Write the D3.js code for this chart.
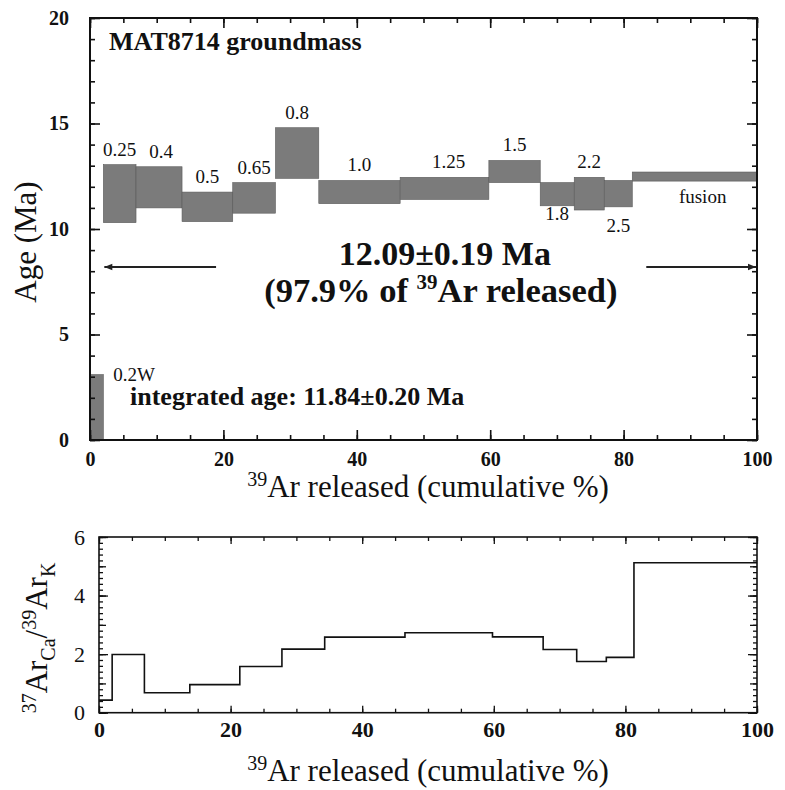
<!DOCTYPE html>
<html>
<head>
<meta charset="utf-8">
<script src="https://cdn.jsdelivr.net/npm/d3@7/dist/d3.min.js"></script>
<style>
body { margin: 0; background: #fff; }
</style>
</head>
<body>
<div id="svgDiv"></div>
<script>
// step edges, cumulative % of 39Ar released
var cumEdges = [0, 2.0, 6.9, 13.8, 21.4, 27.8, 34.3, 46.5, 59.8, 67.5, 72.6, 77.1, 81.3, 100];
// heating step labels (W)
var stepLabels = ["0.2W", "0.25", "0.4", "0.5", "0.65", "0.8", "1.0", "1.25", "1.5", "1.8", "2.2", "2.5", "fusion"];
// age box bottom / top (Ma)
var ageLow  = [0, 10.3, 11.0, 10.35, 10.75, 12.4, 11.2, 11.4, 12.2, 11.1, 10.9, 11.05, 12.27];
var ageHigh = [3.1, 13.05, 12.95, 11.75, 12.2, 14.8, 12.3, 12.45, 13.25, 12.2, 12.45, 12.3, 12.7];
// 37ArCa/39ArK per step
var caK = [0.43, 1.99, 0.68, 0.96, 1.58, 2.17, 2.58, 2.73, 2.59, 2.16, 1.75, 1.89, 5.12];

var xTicks = [0, 20, 40, 60, 80, 100];
var ageTicks = [0, 5, 10, 15, 20];
var caTicks = [0, 2, 4, 6];

var plateauAge = "12.09\u00b10.19 Ma";
var plateauFrac = "97.9";
var plateauStart = 2.0, plateauEnd = 100, plateauArrowAge = 8.2;
var integratedAge = "integrated age: 11.84\u00b10.20 Ma";
var sampleName = "MAT8714 groundmass";

var serif = "Liberation Serif";

var svg = d3.select("#svgDiv").append("svg")
    .attr("width", 785)
    .attr("height", 790)
    .attr("font-family", serif);

var x1 = d3.scaleLinear().domain([0, 100]).range([90, 757]);
var y1 = d3.scaleLinear().domain([0, 20]).range([440, 18]);
var x2 = d3.scaleLinear().domain([0, 100]).range([99, 757]);
var y2 = d3.scaleLinear().domain([0, 6]).range([712.7, 537]);

// one set of ticks on one side, inward
function addTicks(axisFn, scale, vals, size, pos, fmt, fontSize, bold, pad, sw) {
    var ax = axisFn(scale).tickValues(vals).tickSize(-size).tickSizeOuter(0)
        .tickPadding(pad || 0).tickFormat(fmt ? fmt : "");
    var g = svg.append("g").attr("transform", pos).call(ax);
    g.select(".domain").remove();
    g.selectAll("line").attr("stroke", "#111").attr("stroke-width", sw || 1.2);
    g.attr("font-family", serif).attr("font-size", fontSize || 10);
    g.selectAll("text")
        .attr("fill", "#111")
        .attr("font-family", serif)
        .attr("font-size", fontSize)
        .attr("font-weight", bold ? "bold" : "normal");
    return g;
}

function range(a, b, s) { return d3.range(a, b + s / 2, s); }

function txt(x, y, size, bold) {
    return svg.append("text")
        .attr("x", x).attr("y", y)
        .attr("fill", "#111")
        .attr("font-family", serif)
        .attr("font-size", size)
        .attr("font-weight", bold ? "bold" : "normal");
}

// ---------- top plot: age spectrum ----------
var steps = stepLabels.map(function(l, i) {
    return {label: l, a: cumEdges[i], b: cumEdges[i + 1], lo: ageLow[i], hi: ageHigh[i]};
});

svg.selectAll("rect.age").data(steps).enter().append("rect")
    .attr("class", "age")
    .attr("x", d => x1(d.a))
    .attr("width", d => x1(d.b) - x1(d.a))
    .attr("y", d => y1(d.hi))
    .attr("height", d => y1(Math.max(d.lo, 0)) - y1(d.hi))
    .attr("fill", "#7b7b7b")
    .attr("stroke", "#5a5a5a")
    .attr("stroke-width", 0.6);

// label placement: most above the box, some under it
var belowOff = {"1.8": 14, "2.5": 25, "fusion": 22};
var dxOff = {"fusion": 8, "1.25": 4, "0.4": 2};
svg.selectAll("text.step").data(steps).enter().append("text")
    .attr("class", "step")
    .attr("x", function(d) {
        if (d.label == "0.2W") return x1(d.b) + 10;
        return (x1(d.a) + x1(d.b)) / 2 + (dxOff[d.label] || 0);
    })
    .attr("y", function(d) {
        if (d.label == "0.2W") return y1(d.hi) + 6;
        if (belowOff[d.label]) return y1(d.lo) + belowOff[d.label];
        return y1(d.hi) - 9;
    })
    .attr("text-anchor", d => d.label == "0.2W" ? "start" : "middle")
    .attr("fill", "#111")
    .attr("font-family", serif)
    .attr("font-size", 19)
    .text(d => d.label);

// frame + ticks
var mm1 = 1.6;
addTicks(d3.axisBottom, x1, range(0, 100, 5), 5, "translate(0,440)", null, 0, false, 0, mm1);
addTicks(d3.axisBottom, x1, xTicks, 10, "translate(0,440)", d3.format("d"), 20, true, 12, mm1);
addTicks(d3.axisTop, x1, range(0, 100, 5), 5, "translate(0,18)", null, 0, false, 0, mm1);
addTicks(d3.axisTop, x1, xTicks, 10, "translate(0,18)", null, 0, false, 0, mm1);
addTicks(d3.axisLeft, y1, range(0, 20, 1), 5, "translate(90,0)", null, 0, false, 0, mm1);
addTicks(d3.axisLeft, y1, ageTicks, 10, "translate(90,0)", d3.format("d"), 20, true, 21, mm1);
addTicks(d3.axisRight, y1, range(0, 20, 1), 5, "translate(757,0)", null, 0, false, 0, mm1);
addTicks(d3.axisRight, y1, ageTicks, 10, "translate(757,0)", null, 0, false, 0, mm1);

svg.append("rect")
    .attr("x", x1(0)).attr("y", y1(20))
    .attr("width", x1(100) - x1(0)).attr("height", y1(0) - y1(20))
    .attr("fill", "none").attr("stroke", "#111").attr("stroke-width", 2);

// plateau arrows
svg.append("defs").append("marker")
    .attr("id", "arrowHead")
    .attr("viewBox", "0 0 10 10")
    .attr("refX", 10).attr("refY", 5)
    .attr("markerWidth", 11).attr("markerHeight", 8)
    .attr("markerUnits", "userSpaceOnUse")
    .attr("orient", "auto")
    .append("path").attr("d", "M0,1 L10,5 L0,9 Z").attr("fill", "#222");

svg.append("line")
    .attr("x1", x1(18.9)).attr("x2", x1(plateauStart) + 1)
    .attr("y1", y1(plateauArrowAge)).attr("y2", y1(plateauArrowAge))
    .attr("stroke", "#222").attr("stroke-width", 1.8)
    .attr("marker-end", "url(#arrowHead)");
svg.append("line")
    .attr("x1", x1(83.4)).attr("x2", x1(plateauEnd) - 1)
    .attr("y1", y1(plateauArrowAge)).attr("y2", y1(plateauArrowAge))
    .attr("stroke", "#222").attr("stroke-width", 1.8)
    .attr("marker-end", "url(#arrowHead)");

// annotations
txt(x1(2.85), y1(18.48), 26, true).text(sampleName);

txt(x1(53.2), y1(8.29), 34, true)
    .attr("text-anchor", "middle")
    .text(plateauAge);

var pf = txt(x1(52.6), y1(6.54), 34.5, true).attr("text-anchor", "middle");
pf.append("tspan").text("(" + plateauFrac + "% of ");
pf.append("tspan").attr("dy", -13).attr("font-size", 21).text("39");
pf.append("tspan").attr("dy", 13).text("Ar released)");

txt(x1(6), y1(1.66), 26, true).text(integratedAge);

// axis titles
txt(0, 0, 31, false)
    .attr("transform", "translate(36," + ((y1(0) + y1(20)) / 2 + 13) + ") rotate(-90)")
    .attr("text-anchor", "middle")
    .text("Age (Ma)");

function arTitle(cx, y) {
    var t = txt(cx, y, 31, false).attr("text-anchor", "middle");
    t.append("tspan").attr("dy", -11).attr("font-size", 20).text("39");
    t.append("tspan").attr("dy", 11).text("Ar released (cumulative %)");
}
arTitle(428, 497);

// ---------- bottom plot: Ca/K ----------
var caPts = cumEdges.map(function(e, i) { return [e, caK[Math.min(i, caK.length - 1)]]; });
var caLine = d3.line()
    .x(d => x2(d[0]))
    .y(d => y2(d[1]))
    .curve(d3.curveStepAfter);

svg.append("path")
    .datum(caPts)
    .attr("d", caLine)
    .attr("fill", "none")
    .attr("stroke", "#111")
    .attr("stroke-width", 1.6);

var mm2 = 1.3;
addTicks(d3.axisBottom, x2, range(0, 100, 5), 4, "translate(0,712.7)", null, 0, false, 0, mm2);
addTicks(d3.axisBottom, x2, xTicks, 7, "translate(0,712.7)", d3.format("d"), 22, true, 9, mm2);
addTicks(d3.axisTop, x2, range(0, 100, 5), 4, "translate(0,537)", null, 0, false, 0, mm2);
addTicks(d3.axisTop, x2, xTicks, 7, "translate(0,537)", null, 0, false, 0, mm2);
addTicks(d3.axisLeft, y2, range(0, 6, 0.2), 4, "translate(99,0)", null, 0, false, 0, mm2);
addTicks(d3.axisLeft, y2, range(0, 6, 1), 7, "translate(99,0)", null, 0, false, 0, mm2);
addTicks(d3.axisLeft, y2, caTicks, 9, "translate(99,0)", d3.format("d"), 22, false, 14, mm2);
addTicks(d3.axisRight, y2, range(0, 6, 0.2), 4, "translate(757,0)", null, 0, false, 0, mm2);
addTicks(d3.axisRight, y2, range(0, 6, 1), 7, "translate(757,0)", null, 0, false, 0, mm2);
addTicks(d3.axisRight, y2, caTicks, 9, "translate(757,0)", null, 0, false, 0, mm2);

svg.append("rect")
    .attr("x", x2(0)).attr("y", y2(6))
    .attr("width", x2(100) - x2(0)).attr("height", y2(0) - y2(6))
    .attr("fill", "none").attr("stroke", "#111").attr("stroke-width", 1.6);

var ct = txt(0, 0, 31, false)
    .attr("transform", "translate(47,638) rotate(-90)")
    .attr("text-anchor", "middle");
ct.append("tspan").attr("dy", -11).attr("font-size", 20).text("37");
ct.append("tspan").attr("dy", 11).text("Ar");
ct.append("tspan").attr("dy", 8).attr("font-size", 20).text("Ca");
ct.append("tspan").attr("dy", -8).text("/");
ct.append("tspan").attr("dy", -11).attr("font-size", 20).text("39");
ct.append("tspan").attr("dy", 11).text("Ar");
ct.append("tspan").attr("dy", 8).attr("font-size", 20).text("K");

arTitle(428, 781);
</script>
</body>
</html>
